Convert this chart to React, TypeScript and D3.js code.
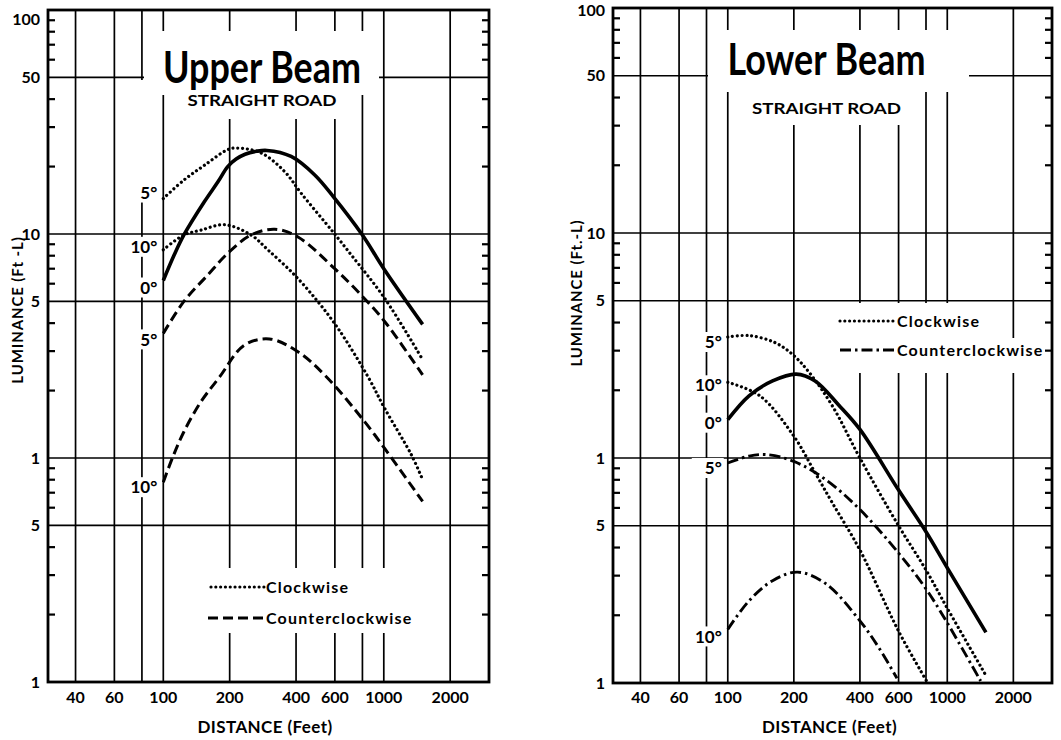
import React from "react";
import * as d3 from "d3";

// ---------- axes ----------
const X_DOMAIN = [30, 3000];
const Y_DOMAIN = [0.1, 100];
const X_GRID = [40, 60, 80, 100, 200, 400, 600, 800, 1000, 2000];
const X_LABEL_VALUES = [40, 60, 100, 200, 400, 600, 1000, 2000];
const X_LABELS = ["40", "60", "100", "200", "400", "600", "1000", "2000"];
const Y_GRID = [50, 10, 5, 1, 0.5];
const Y_MINOR = [0.2, 0.3, 0.4, 0.6, 0.7, 0.8, 0.9, 2, 3, 4, 6, 7, 8, 9, 20, 30, 40, 60, 70, 80, 90];
const Y_LABEL_VALUES = [100, 50, 10, 5, 1, 0.5, 0.1];
const Y_LABELS = ["100", "50", "10", "5", "1", "5", "1"];

// ---------- Upper Beam (distance ft, luminance ft-L) ----------
const upperSolid0 = [[100, 6.2], [112, 8.05], [124, 9.9], [154, 14], [177, 17.1], [196, 20], [214, 21.6], [235, 22.7], [265, 23.4], [295, 23.6], [380, 22.2], [485, 18.4], [590, 14.7], [800, 9.9], [1000, 7.0], [1500, 3.95]];
const upperCw5 = [[100, 14.4], [124, 17.4], [154, 20.3], [196, 23.8], [215, 24.2], [278, 23], [355, 19], [422, 15.2], [589, 10.2], [713, 8.05], [1011, 5.15], [1500, 2.75]];
const upperCw10 = [[100, 8.5], [124, 9.9], [148, 10.4], [190, 11], [250, 9.9], [298, 8.5], [394, 6.56], [503, 4.98], [620, 3.79], [849, 2.3], [1011, 1.66], [1336, 1.03], [1500, 0.8]];
const upperCcw5 = [[100, 3.6], [124, 5.0], [159, 6.56], [196, 8.2], [250, 9.9], [320, 10.5], [408, 9.7], [599, 7.0], [791, 5.33], [1011, 4.06], [1500, 2.35]];
const upperCcw10 = [[100, 0.78], [110, 1.0], [124, 1.31], [148, 1.78], [180, 2.3], [233, 3.19], [303, 3.4], [408, 2.98], [550, 2.3], [820, 1.45], [1011, 1.1], [1500, 0.64]];

// ---------- Lower Beam ----------
const lowerSolid0 = [[100, 1.48], [125, 1.89], [160, 2.2], [205, 2.36], [250, 2.2], [320, 1.72], [400, 1.34], [600, 0.72], [800, 0.47], [1000, 0.325], [1500, 0.168]];
const lowerCw5 = [[100, 3.45], [125, 3.5], [165, 3.25], [200, 2.85], [235, 2.4], [300, 1.7], [400, 1.0], [600, 0.5], [800, 0.318], [1000, 0.215], [1500, 0.108]];
const lowerCw10 = [[100, 2.17], [140, 1.89], [200, 1.25], [250, 0.86], [300, 0.63], [400, 0.39], [600, 0.17], [815, 0.1]];
const lowerCcw5 = [[100, 0.95], [125, 1.02], [150, 1.035], [200, 0.966], [280, 0.8], [400, 0.59], [600, 0.378], [800, 0.262], [1000, 0.185], [1420, 0.102]];
const lowerCcw10 = [[100, 0.173], [125, 0.232], [160, 0.285], [208, 0.311], [280, 0.276], [400, 0.189], [489, 0.143], [590, 0.105]];

const DEG_LABELS = ["5°", "10°", "0°", "5°", "10°"];

const FONT = "Lato, 'Open Sans', sans-serif";

type Style = { width: number; dash?: string; cap?: string };
const SOLID: Style = { width: 3.6 };
const DOTTED: Style = { width: 3.2, dash: "0.01 4.8", cap: "round" };
const DASHED: Style = { width: 3.0, dash: "10 5" };
const DASHDOT: Style = { width: 2.9, dash: "11 4 2.5 4" };

const panels = [
  {
    key: "upper",
    title: "Upper Beam",
    titleY: 83,
    subY: 106,
    left: 48, right: 489, top: 10, bottom: 682,
    topLabelShift: 9,
    yTitle: "LUMINANCE (Ft -L)",
    yTitleX: 18, yTitleY: 310,
    series: [
      { data: upperCw5, style: DOTTED, dy: -6 },
      { data: upperCw10, style: DOTTED, dy: -3 },
      { data: upperSolid0, style: SOLID, dy: 7 },
      { data: upperCcw5, style: DASHED, dy: 6 },
      { data: upperCcw10, style: DASHED, dy: 5 },
    ],
    legend: [
      { text: "Clockwise", style: DOTTED, x1: 211, x2: 265, y: 587 },
      { text: "Counterclockwise", style: DASHED, x1: 208, x2: 265, y: 618 },
    ],
    masks: [
      [144, 31, 235, 64],
      [176, 95, 169, 24],
      [134, 80, 12, 104],
      [204, 568, 212, 65],
    ],
  },
  {
    key: "lower",
    title: "Lower Beam",
    titleY: 75,
    subY: 114,
    left: 613, right: 1052, top: 8, bottom: 683,
    topLabelShift: 2,
    yTitle: "LUMINANCE (Ft.-L)",
    yTitleX: 577, yTitleY: 293,
    series: [
      { data: lowerCw5, style: DOTTED, dy: 5 },
      { data: lowerCw10, style: DOTTED, dy: 3 },
      { data: lowerSolid0, style: SOLID, dy: 3 },
      { data: lowerCcw5, style: DASHDOT, dy: 5 },
      { data: lowerCcw10, style: DASHDOT, dy: 7 },
    ],
    legend: [
      { text: "Clockwise", style: DOTTED, x1: 840, x2: 896, y: 321 },
      { text: "Counterclockwise", style: DASHDOT, x1: 840, x2: 896, y: 350 },
    ],
    masks: [
      [708, 30, 261, 62],
      [760, 92, 155, 33],
      [838, 303, 147, 35],
      [838, 338, 210, 35],
    ],
  },
];

function Panel({ p }: { p: any }) {
  const x = d3.scaleLog().domain(X_DOMAIN).range([p.left, p.right]);
  const y = d3.scaleLog().domain(Y_DOMAIN).range([p.bottom, p.top]);
  const line = d3
    .line<number[]>()
    .x((d) => x(d[0]))
    .y((d) => y(d[1]))
    .curve(d3.curveCatmullRom.alpha(0.5));
  const cx = (p.left + p.right) / 2 + (p.key === "upper" ? -6.5 : -6);
  const tickLen = 7;
  const labelRight = x(100) - 6;

  return (
    <g>
      {/* grid */}
      {X_GRID.map((v) => (
        <line key={"xg" + v} x1={x(v)} x2={x(v)} y1={p.top} y2={p.bottom} stroke="#000" strokeWidth={1.7} />
      ))}
      {Y_GRID.map((v) => (
        <line key={"yg" + v} x1={p.left} x2={p.right} y1={y(v)} y2={y(v)} stroke="#000" strokeWidth={1.7} />
      ))}
      {/* masks behind texts */}
      {p.masks.map((m: number[], i: number) => (
        <rect key={"m" + i} x={m[0]} y={m[1]} width={m[2]} height={m[3]} fill="#fff" />
      ))}
      {p.series.map((s: any, i: number) => (
        <rect
          key={"lm" + i}
          x={labelRight - 30}
          y={y(s.data[0][1]) + s.dy - 10}
          width={32}
          height={20}
          fill="#fff"
        />
      ))}
      {/* minor ticks */}
      {Y_MINOR.map((v) => (
        <g key={"mt" + v}>
          <line x1={p.left} x2={p.left + tickLen} y1={y(v)} y2={y(v)} stroke="#000" strokeWidth={2.2} />
          <line x1={p.right} x2={p.right - tickLen} y1={y(v)} y2={y(v)} stroke="#000" strokeWidth={2.2} />
        </g>
      ))}
      {/* frame */}
      <rect x={p.left} y={p.top} width={p.right - p.left} height={p.bottom - p.top} fill="none" stroke="#000" strokeWidth={2.8} />
      {/* curves */}
      {p.series.map((s: any, i: number) => (
        <path
          key={"c" + i}
          d={line(s.data) || ""}
          fill="none"
          stroke="#000"
          strokeWidth={s.style.width}
          strokeDasharray={s.style.dash}
          strokeLinecap={s.style.cap || "butt"}
        />
      ))}
      {/* degree labels */}
      {p.series.map((s: any, i: number) => (
        <text
          key={"dl" + i}
          x={labelRight}
          y={y(s.data[0][1]) + s.dy}
          dy="0.36em"
          textAnchor="end"
          fontFamily={FONT}
          fontWeight={700}
          fontSize={17}
        >
          {DEG_LABELS[i]}
        </text>
      ))}
      {/* legend */}
      {p.legend.map((l: any) => (
        <g key={l.text}>
          <line x1={l.x1} x2={l.x2} y1={l.y} y2={l.y} stroke="#000" strokeWidth={l.style.width} strokeDasharray={l.style.dash} strokeLinecap={l.style.cap || "butt"} />
          <text x={l.x2 + 1} y={l.y} dy="0.36em" fontFamily={FONT} fontWeight={700} fontSize={16} letterSpacing={1.2}>
            {l.text}
          </text>
        </g>
      ))}
      {/* titles */}
      <text x={cx} y={p.titleY} textAnchor="middle" fontFamily={FONT} fontWeight={700} fontSize={43} textLength={198} lengthAdjust="spacingAndGlyphs">
        {p.title}
      </text>
      <text x={cx} y={p.subY} textAnchor="middle" fontFamily={FONT} fontWeight={700} fontSize={16} textLength={149} lengthAdjust="spacingAndGlyphs">
        {"STRAIGHT  ROAD"}
      </text>
      {/* y tick labels */}
      {Y_LABEL_VALUES.map((v, i) => (
        <text
          key={"yl" + i}
          x={p.left - 8}
          y={y(v) + (i === 0 ? p.topLabelShift : 0)}
          dy="0.35em"
          textAnchor="end"
          fontFamily={FONT}
          fontWeight={700}
          fontSize={16}
        >
          {Y_LABELS[i]}
        </text>
      ))}
      {/* x tick labels */}
      {X_LABEL_VALUES.map((v, i) => (
        <text key={"xl" + v} x={x(v)} y={697} dy="0.35em" textAnchor="middle" fontFamily={FONT} fontWeight={700} fontSize={16}>
          {X_LABELS[i]}
        </text>
      ))}
      {/* axis titles */}
      <text x={cx + 3} y={733} textAnchor="middle" fontFamily={FONT} fontWeight={700} fontSize={17} letterSpacing={0.4}>
        {"DISTANCE (Feet)"}
      </text>
      <text
        transform={`translate(${p.yTitleX},${p.yTitleY}) rotate(-90)`}
        textAnchor="middle"
        dy="0.35em"
        fontFamily={FONT}
        fontWeight={700}
        fontSize={15}
        letterSpacing={0.9}
      >
        {p.yTitle}
      </text>
    </g>
  );
}

export default function App() {
  return (
    <svg
      width={1061}
      height={740}
      viewBox="0 0 1061 740"
      style={{ position: "absolute", left: 0, top: 0, background: "#fff" }}
    >
      <rect x={0} y={0} width={1061} height={740} fill="#fff" />
      {panels.map((p) => (
        <Panel key={p.key} p={p} />
      ))}
    </svg>
  );
}
